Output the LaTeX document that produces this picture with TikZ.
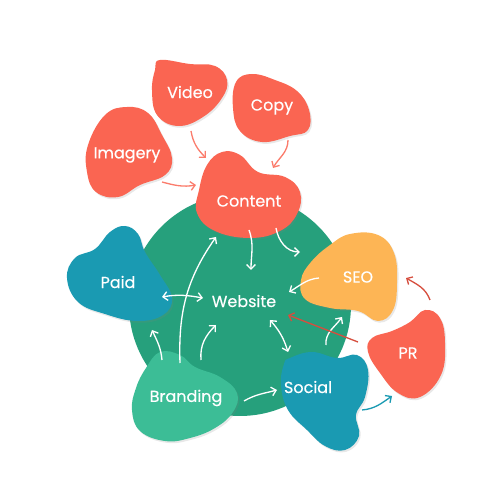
\documentclass[tikz,border=0pt]{standalone}
\usepackage{fontspec}
\setmainfont{Poppins}[FakeBold=0.35]
\usepackage{tikz}
\usetikzlibrary{arrows.meta, shadows}
\definecolor{coral}{RGB}{250,101,82}
\definecolor{tealblue}{RGB}{26,154,178}
\definecolor{leafgreen}{RGB}{38,160,124}
\definecolor{mintgreen}{RGB}{60,189,150}
\definecolor{sunorange}{RGB}{253,181,85}
\definecolor{brickred}{RGB}{214,78,62}

\begin{document}
\begin{tikzpicture}[x=0.02cm, y=0.02cm,
    blob/.style={drop shadow={shadow xshift=0.8pt, shadow yshift=-1pt, opacity=0.18}},
    lbl/.style={text=white, font=\fontsize{9.1}{11}\selectfont},
    flow/.style={-{Straight Barb[length=2.6pt, width=5pt]}, line width=0.75pt, white},
    both/.style={{Straight Barb[length=2.6pt, width=5pt]}-{Straight Barb[length=2.6pt, width=5pt]}, line width=0.75pt, white}]
    \useasboundingbox (0,0) rectangle (500,500);

    % Website disc
    \fill[leafgreen] (240,195) circle (111);

    % Blobs
    \fill[coral, blob] plot[smooth cycle, tension=0.7] coordinates {(160,440) (190,436) (215,434) (227,420) (222,402) (203,383) (178,374) (157,385) (152,410) (155,430)};
    \fill[coral, blob] plot[smooth cycle, tension=0.7] coordinates {(236,418) (252,426) (275,420) (297,409) (309,390) (308,370) (290,364) (262,358) (240,369) (233,392)};
    \fill[coral, blob] plot[smooth cycle, tension=0.7] coordinates {(105,385) (127,393) (148,387) (162,365) (172,342) (165,325) (140,315) (118,303) (96,308) (87,328) (88,355)};
    \fill[coral, blob] plot[smooth cycle, tension=0.7] coordinates {(222,348) (240,345) (258,328) (285,323) (300,308) (297,286) (280,269) (250,262) (215,269) (197,287) (199,310) (207,335)};
    \fill[tealblue, blob] plot[smooth cycle, tension=0.7] coordinates {(110,268) (125,274) (138,266) (145,248) (160,225) (172,202) (163,185) (137,179) (105,186) (78,198) (67,222) (75,242) (95,251)};
    \fill[sunorange, blob] plot[smooth cycle, tension=0.7] coordinates {(330,255) (350,266) (378,265) (394,247) (397,217) (393,190) (378,179) (358,189) (330,192) (305,201) (301,220) (311,238)};
    \fill[coral, blob] plot[smooth cycle, tension=0.7] coordinates {(410,178) (425,190) (440,182) (445,157) (441,125) (420,103) (398,107) (380,127) (368,148) (372,162) (392,169)};
    \fill[tealblue, blob] plot[smooth cycle, tension=0.7] coordinates {(290,142) (312,148) (337,142) (357,145) (368,130) (365,103) (356,85) (359,64) (345,50) (325,54) (307,70) (288,90) (281,115) (284,136)};
    \fill[mintgreen, blob] plot[smooth cycle, tension=0.7] coordinates {(160,148) (180,145) (195,133) (220,123) (237,107) (233,88) (215,72) (190,62) (165,59) (140,69) (132,90) (136,112) (146,132)};

    % Labels
    \node[lbl] (video) at (190,408) {Video};
    \node[lbl] (copy) at (272,393) {Copy};
    \node[lbl] (imagery) at (127,345) {Imagery};
    \node[lbl] (content) at (249,299) {Content};
    \node[lbl] (paid) at (118,218) {Paid};
    \node[lbl] (website) at (244,199) {Website};
    \node[lbl] (seo) at (358,223) {SEO};
    \node[lbl] (pr) at (408,147) {PR};
    \node[lbl] (social) at (308,113) {Social};
    \node[lbl] (branding) at (186,102) {Branding};

    % Arrow ends
    \coordinate (video-out) at (191,369);   \coordinate (content-in1) at (206,342);
    \coordinate (copy-out) at (288,360);    \coordinate (content-in2) at (273,332);
    \coordinate (imagery-out) at (162,318); \coordinate (content-in3) at (196,315);
    \coordinate (content-out1) at (249,270); \coordinate (website-in1) at (251,230);
    \coordinate (content-out2) at (276,272); \coordinate (seo-in1) at (300,248);
    \coordinate (seo-out1) at (319,222);    \coordinate (website-in2) at (289,208);
    \coordinate (paid-end) at (162,203);    \coordinate (website-in3) at (203,202);
    \coordinate (branding-out1) at (180,137); \coordinate (content-in4) at (216,263);
    \coordinate (branding-out2) at (162,140); \coordinate (paid-in) at (152,170);
    \coordinate (branding-out3) at (201,140); \coordinate (website-in4) at (216,175);
    \coordinate (website-out) at (270,180); \coordinate (social-end) at (288,148);
    \coordinate (social-out1) at (326,155); \coordinate (seo-in2) at (342,183);
    \coordinate (branding-out4) at (244,99); \coordinate (social-in) at (277,110);
    \coordinate (social-out2) at (362,90);  \coordinate (pr-in) at (392,104);
    \coordinate (pr-out1) at (358,158);     \coordinate (website-in5) at (288,185);
    \coordinate (pr-out2) at (430,200);     \coordinate (seo-in3) at (406,222);

    % Flows into content
    \draw[flow, coral!85] (video-out) to[out=-80, in=135] (content-in1);
    \draw[flow, coral!85] (copy-out) to[out=-90, in=60] (content-in2);
    \draw[flow, coral!85] (imagery-out) to[out=-15, in=190] (content-in3);

    % Flows on the disc
    \draw[flow] (content-out1) to[out=-70, in=90] (website-in1);
    \draw[flow] (content-out2) to[out=-80, in=180] (seo-in1);
    \draw[flow] (seo-out1) to[out=185, in=30] (website-in2);
    \draw[both] (paid-end) to[out=10, in=170] (website-in3);
    \draw[flow] (branding-out1) to[out=92, in=235] (content-in4);
    \draw[flow] (branding-out2) to[out=95, in=-65] (paid-in);
    \draw[flow] (branding-out3) to[out=95, in=225] (website-in4);
    \draw[both] (website-out) to[bend left=12] (social-end);
    \draw[flow] (social-out1) to[out=95, in=235] (seo-in2);
    \draw[flow] (branding-out4) to[out=30, in=195] (social-in);

    % Outer flows
    \draw[flow, tealblue] (social-out2) to[out=5, in=215] (pr-in);
    \draw[flow, brickred] (pr-out1) -- (website-in5);
    \draw[flow, brickred] (pr-out2) to[out=110, in=-30] (seo-in3);
\end{tikzpicture}
\end{document}
